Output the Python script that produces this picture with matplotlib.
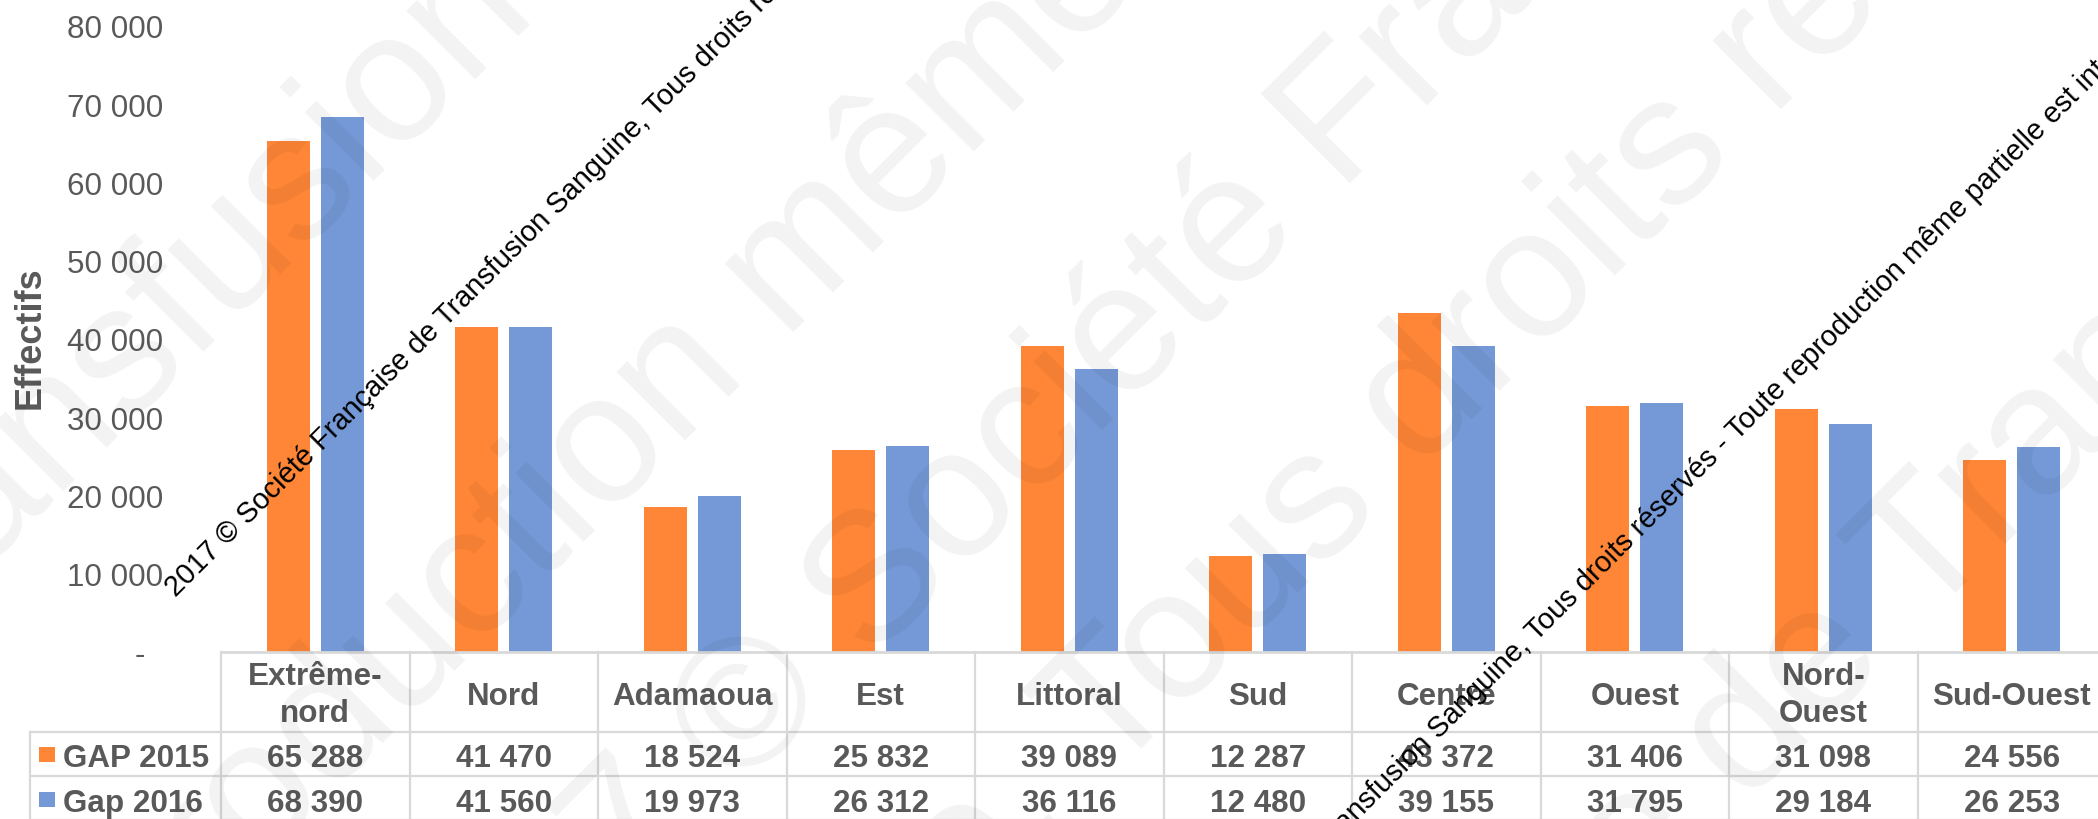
import matplotlib
matplotlib.use('Agg')
import matplotlib.pyplot as plt
import matplotlib.transforms as mtransforms
from matplotlib.lines import Line2D
from matplotlib.patches import Rectangle
import numpy as np

# ---------------- data ----------------
categories = ["Extrême-\nnord", "Nord", "Adamaoua", "Est", "Littoral", "Sud",
              "Centre", "Ouest", "Nord-\nOuest", "Sud-Ouest"]
series_names = ["GAP 2015", "Gap 2016"]
gap_2015 = [65288, 41470, 18524, 25832, 39089, 12287, 43372, 31406, 31098, 24556]
gap_2016 = [68390, 41560, 19973, 26312, 36116, 12480, 39155, 31795, 29184, 26253]
y_ticks = [0, 10000, 20000, 30000, 40000, 50000, 60000, 70000, 80000]
y_label = "Effectifs"
watermark = ("2017 © Société Française de Transfusion Sanguine, Tous droits réservés"
             " - Toute reproduction même partielle est interdite")

# ---------------- style ----------------
W, H = 2098, 820
plt.rcParams['font.family'] = ['Liberation Sans', 'DejaVu Sans']
TXT = '#595959'
ORANGE = '#FE8636'
BLUE = '#7599D7'
GRID = '#D9D9D9'
FS = 22.6

fig = plt.figure(figsize=(W / 100, H / 100), dpi=100)
fig.patch.set_facecolor('white')


def fx(x):
    return x / W


def fy(y):
    return 1 - y / H


# ---------------- axes & bars ----------------
ax = fig.add_axes([fx(221), fy(653), 1885 / W, 653 / H])
ax.set_facecolor('none')
ax.set_xlim(-0.5, len(categories) - 0.5)
ax.set_ylim(0, 80000 * 653 / 626)
x = np.arange(len(categories))
bw, off = 0.226, 0.143
ax.bar(x - off, gap_2015, bw, color=ORANGE, zorder=2)
ax.bar(x + off, gap_2016, bw, color=BLUE, zorder=2)
for sp in ax.spines.values():
    sp.set_visible(False)
ax.set_yticks(y_ticks)
ax.set_yticklabels([f"{v:,}".replace(",", " ") if v else "-  " for v in y_ticks])
ax.tick_params(axis='y', length=0, pad=41.8, labelsize=FS, labelcolor=TXT)
ax.tick_params(axis='x', bottom=False, labelbottom=False)

fig.text(fx(30), fy(338), y_label, rotation=90, ha='center', va='center',
         fontsize=26, fontweight='bold', color=TXT)

# ---------------- data table ----------------
bt = mtransforms.blended_transform_factory(ax.transData, fig.transFigure)
lw = 1.6
# horizontal lines
fig.add_artist(Line2D([-0.5, len(categories) - 0.5], [fy(653)] * 2, transform=bt,
                      color=GRID, lw=lw + 0.4))
for yy in (733, 777, 821):
    fig.add_artist(Line2D([fx(29.5), 1.02], [fy(yy)] * 2, transform=fig.transFigure,
                          color=GRID, lw=lw))
# vertical lines
for k in range(len(categories) + 1):
    fig.add_artist(Line2D([k - 0.5, k - 0.5], [fy(653), fy(830)], transform=bt,
                          color=GRID, lw=lw))
fig.add_artist(Line2D([fx(29.5)] * 2, [fy(733), fy(830)], transform=fig.transFigure,
                      color=GRID, lw=lw))

# header labels
for i, cat in enumerate(categories):
    lines = cat.split("\n")
    bases = [705] if len(lines) == 1 else [685, 722]
    for ln, b in zip(lines, bases):
        ax.text(i, fy(b), ln, transform=bt, ha='center', va='baseline',
                fontsize=FS, fontweight='bold', color=TXT)

# rows
for vals, name, col, base, sq in ((gap_2015, series_names[0], ORANGE, 767, 748),
                                  (gap_2016, series_names[1], BLUE, 812, 793)):
    fig.add_artist(Rectangle((fx(39), fy(sq + 15)), 15.5 / W, 15 / H,
                             transform=fig.transFigure, color=col, lw=0))
    fig.text(fx(63), fy(base), name, ha='left', va='baseline', fontsize=FS,
             fontweight='bold', color=TXT)
    for i, v in enumerate(vals):
        ax.text(i, fy(base), f"{v:,}".replace(",", " "), transform=bt,
                ha='center', va='baseline', fontsize=FS, fontweight='bold', color=TXT)

# ---------------- watermarks ----------------
renderer = fig.canvas.get_renderer()


def text_w(t, size):
    tt = fig.text(0, 0, t, size=size)
    w = tt.get_window_extent(renderer).width
    tt.remove()
    return w


def adv(t, size):
    if not t:
        return 0.0
    return text_w(t + 'l', size) - text_w('l', size)


def center_along(s, idx, size):
    return adv(s[:idx], size) + text_w(s[idx], size) / 2


ANG = 45
a = np.deg2rad(ANG)
dvec = np.array([np.cos(a), np.sin(a)])
nvec = np.array([-np.sin(a), np.cos(a)])


def place_rot(s, idx, target, size, lift_em, **kw):
    along = center_along(s, idx, size)
    em = size * 100 / 72
    p = np.array([target[0], H - target[1]]) - dvec * along - nvec * lift_em * em
    fig.text(p[0] / W, p[1] / H, s, size=size, rotation=ANG, rotation_mode='anchor',
             ha='left', va='baseline', **kw)


def proj(p1, p2):
    return ((p2[0] - p1[0]) + (p1[1] - p2[1])) / np.sqrt(2)


# big faint watermark
i_T = watermark.index('Tous')
i_s = watermark.index('droits') + 5
ref = 126
d_ref = center_along(watermark, i_s, ref) - center_along(watermark, i_T, ref)
big = ref * proj((1104, 693), (1699, 180)) / d_ref
wm_kw = dict(color='black', alpha=0.05, zorder=5)
place_rot(watermark, watermark.index('Transfusion') + 9, (397, 90), big, 0.26, **wm_kw)
place_rot(watermark, watermark.index('même'), (805, 253), big, 0.26, **wm_kw)
place_rot(watermark, watermark.index('©'), (740, 700), big, 0.36, **wm_kw)
place_rot(watermark, i_T, (1104, 693), big, 0.36, **wm_kw)
place_rot(watermark, watermark.index(' de ') + 2, (1820, 663), big, 0.26, **wm_kw)

# small black copyright lines
ref = 20
d_ref = center_along(watermark, i_T, ref) - center_along(watermark, 0, ref)
small = ref * proj((174, 585), (647, 97)) / d_ref
place_rot(watermark, 0, (174, 585), small, 0.36, color='black', zorder=6)
place_rot(watermark, i_T, (1536, 628), small, 0.36, color='black', zorder=6)

fig.savefig('out.png', dpi=100)
